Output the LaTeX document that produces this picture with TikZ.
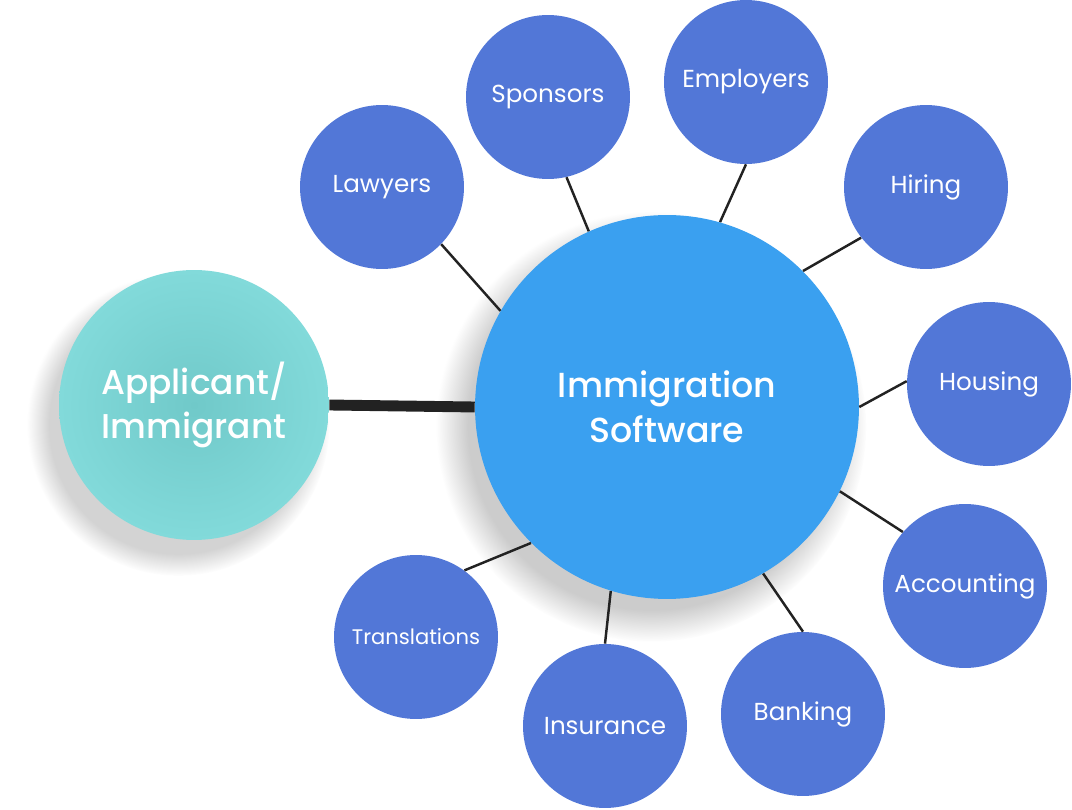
\documentclass[tikz,border=0pt]{standalone}
\usepackage{fontspec}
\setmainfont{Poppins}
\newfontfamily\hubfont{Poppins Medium}
\usepackage{xcolor}
\usetikzlibrary{shadows,fadings}
\definecolor{spokeblue}{HTML}{5277D7}
\definecolor{hubblue}{HTML}{3AA0F0}
\definecolor{tealdark}{HTML}{70C9C9}
\definecolor{teallight}{HTML}{82DADA}
\definecolor{linedark}{HTML}{222222}

\begin{document}
\begin{tikzpicture}[
  x=0.02cm, y=-0.02cm,
  spoke/.style={circle, fill=spokeblue, minimum size=3.28cm, inner sep=0pt, text=white, align=center, font=\fontsize{14}{17}\selectfont},
  hubnode/.style={circle, fill=hubblue, minimum size=7.68cm, inner sep=0pt, text=white, align=center, font=\hubfont\fontsize{19.8}{25.5}\selectfont,
    circular drop shadow={shadow xshift=-8pt, shadow yshift=-10pt, shadow scale=1.12, opacity=0.4}},
  appnode/.style={circle, inner color=tealdark, outer color=teallight, minimum size=5.4cm, inner sep=0pt, text=white, align=center, font=\hubfont\fontsize{19.6}{25.5}\selectfont,
    circular drop shadow={shadow xshift=-8pt, shadow yshift=-10pt, shadow scale=1.12, opacity=0.35}},
  link/.style={draw=linedark, line width=1.4pt},
  biglink/.style={draw=linedark, line width=6.2pt}
]
  \useasboundingbox (0,0) rectangle (1072,810);
  % centre and applicant
  \node[hubnode] (hub) at (667,407) {Immigration\\Software};
  \node[appnode] (app) at (194,405) {Applicant/\\Immigrant};
  % spokes
  \node[spoke] (lawyers) at (382,187) {Lawyers};
  \node[spoke] (sponsors) at (548,97) {Sponsors};
  \node[spoke] (employers) at (746,82) {Employers};
  \node[spoke] (hiring) at (926,187) {Hiring};
  \node[spoke] (housing) at (989,384) {Housing};
  \node[spoke] (accounting) at (965,586) {Accounting};
  \node[spoke] (banking) at (803,714) {Banking};
  \node[spoke] (insurance) at (605,726) {Insurance};
  \node[spoke, font=\fontsize{12}{14}\selectfont] (translations) at (416,637) {Translations};
  % connectors
  \draw[biglink] (app.east) -- (hub.west);
  \draw[link] (hub.150) -- (lawyers.-44);
  \draw[link] (hub.114) -- (sponsors.-77);
  \draw[link] (hub.74) -- (employers.-90);
  \draw[link] (hub.45) -- (hiring.-142);
  \draw[link] (hub.0) -- (housing.178);
  \draw[link] (hub.-26) -- (accounting.139);
  \draw[link] (hub.-60) -- (banking.90);
  \draw[link] (hub.-107) -- (insurance.90);
  \draw[link] (hub.-135) -- (translations.54);
\end{tikzpicture}
\end{document}
